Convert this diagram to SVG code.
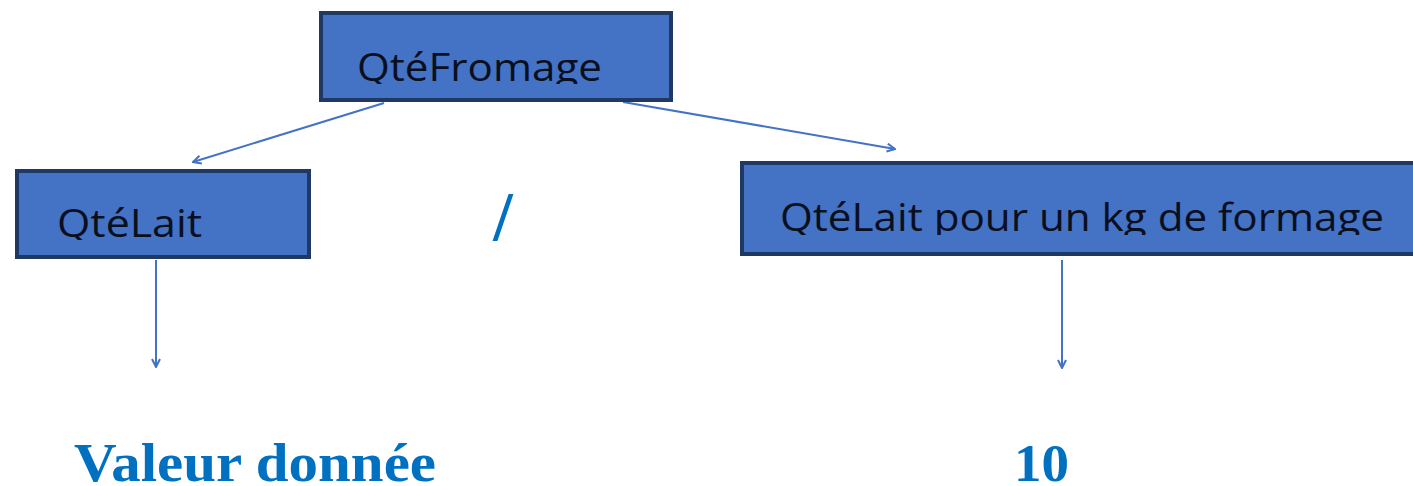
<svg xmlns="http://www.w3.org/2000/svg" width="1413" height="486" viewBox="0 0 1413 486">
<style>
.box{fill:#4472c4;stroke:#1f3864;stroke-width:4}
.lbl{font-family:"Open Sans","Liberation Sans",sans-serif;fill:#0a0f1e}
.val{font-family:"Liberation Serif",serif;font-weight:bold;fill:#0070c0}
.con{stroke:#4472c4;stroke-width:2;fill:none}
</style>
<defs>
<marker id="ah" viewBox="0 0 10 10" refX="9" refY="5" markerWidth="10" markerHeight="10" markerUnits="userSpaceOnUse" orient="auto">
<path d="M1,1 L9,5 L1,9" fill="none" stroke="#4472c4" stroke-width="2"/>
</marker>
<clipPath id="c1"><rect x="320" y="12" width="352" height="72"/></clipPath>
<clipPath id="c2"><rect x="16" y="170" width="294" height="70"/></clipPath>
<clipPath id="c3"><rect x="741" y="162" width="672" height="73"/></clipPath>
</defs>
<g id="connectors">
<line class="con" x1="384" y1="103" x2="193" y2="162" marker-end="url(#ah)"/>
<line class="con" x1="623" y1="102" x2="895" y2="149" marker-end="url(#ah)"/>
<line class="con" x1="156" y1="260" x2="156" y2="367" marker-end="url(#ah)"/>
<line class="con" x1="1062" y1="260" x2="1062" y2="368" marker-end="url(#ah)"/>
</g>
<g id="node-qtefromage">
<rect class="box" x="321" y="13" width="350" height="87"/>
<text class="lbl" x="357" y="81" font-size="39" textLength="245" lengthAdjust="spacingAndGlyphs" clip-path="url(#c1)">QtéFromage</text>
</g>
<g id="node-qtelait">
<rect class="box" x="17" y="171" width="292" height="86"/>
<text class="lbl" x="57" y="237" font-size="38" textLength="145" lengthAdjust="spacingAndGlyphs" clip-path="url(#c2)">QtéLait</text>
</g>
<g id="node-qtelait-kg">
<rect class="box" x="742" y="163" width="680" height="91"/>
<text class="lbl" x="780" y="231" font-size="39" textLength="604" lengthAdjust="spacingAndGlyphs" clip-path="url(#c3)">QtéLait pour un kg de formage</text>
</g>
<g id="node-slash">
<text class="val" x="503" y="240" font-size="70" font-weight="normal" text-anchor="middle">/</text>
</g>
<g id="node-valeur">
<text class="val" x="74" y="481" font-size="54" textLength="362" lengthAdjust="spacingAndGlyphs">Valeur donnée</text>
</g>
<g id="node-10">
<text class="val" x="1014" y="481" font-size="53" textLength="55" lengthAdjust="spacingAndGlyphs">10</text>
</g>
</svg>
